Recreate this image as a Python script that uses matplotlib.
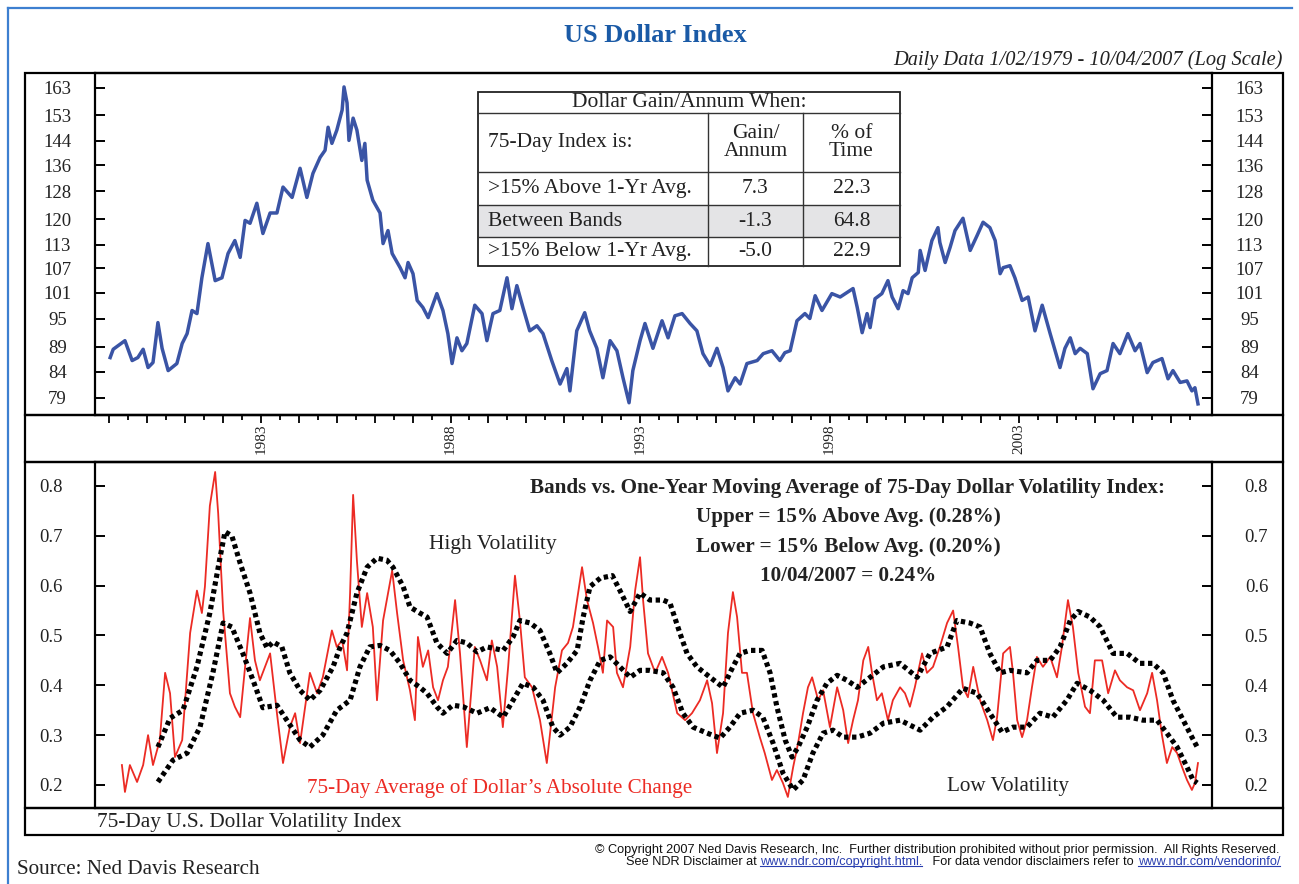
import matplotlib
matplotlib.use("Agg")
import matplotlib.pyplot as plt
from matplotlib.patches import Rectangle
from matplotlib.ticker import NullLocator, FixedLocator

SERIF = ["Liberation Serif", "DejaVu Serif"]
SANS = ["Liberation Sans", "DejaVu Sans"]

# ---- US Dollar Index (decimal years) ----
dollar_dates = [
    1979.02, 1979.10, 1979.41, 1979.60, 1979.75, 1979.89, 1980.02, 1980.15, 1980.28, 1980.39,
    1980.55, 1980.78, 1980.92, 1981.05, 1981.18, 1981.31, 1981.44, 1981.60, 1981.79, 1981.97,
    1982.13, 1982.31, 1982.45, 1982.58, 1982.71, 1982.89, 1983.05, 1983.24, 1983.42, 1983.58,
    1983.82, 1984.03, 1984.21, 1984.37, 1984.56, 1984.69, 1984.77, 1984.87, 1985.00, 1985.14,
    1985.19, 1985.27, 1985.32, 1985.43, 1985.53, 1985.66, 1985.74, 1985.80, 1985.95, 1986.14,
    1986.22, 1986.35, 1986.46, 1986.67, 1986.80, 1986.88, 1987.01, 1987.12, 1987.27, 1987.41,
    1987.64, 1987.80, 1987.93, 1988.04, 1988.17, 1988.30, 1988.43, 1988.64, 1988.83, 1988.96,
    1989.12, 1989.30, 1989.49, 1989.62, 1989.75, 1989.91, 1990.09, 1990.28, 1990.44, 1990.67,
    1990.89, 1991.07, 1991.15, 1991.33, 1991.54, 1991.67, 1991.86, 1992.02, 1992.21, 1992.39,
    1992.55, 1992.71, 1992.81, 1993.00, 1993.13, 1993.34, 1993.58, 1993.74, 1993.92, 1994.11,
    1994.32, 1994.50, 1994.66, 1994.85, 1995.03, 1995.19, 1995.32, 1995.51, 1995.64, 1995.82,
    1996.09, 1996.25, 1996.48, 1996.69, 1996.82, 1996.96, 1997.14, 1997.35, 1997.48, 1997.62,
    1997.80, 1998.06, 1998.28, 1998.62, 1998.73, 1998.86, 1998.99, 1999.07, 1999.20, 1999.38,
    1999.54, 1999.65, 1999.81, 1999.94, 2000.07, 2000.18, 2000.34, 2000.39, 2000.52, 2000.70,
    2000.86, 2000.91, 2001.05, 2001.18, 2001.31, 2001.52, 2001.71, 2001.89, 2002.05, 2002.23,
    2002.37, 2002.50, 2002.58, 2002.76, 2002.89, 2003.08, 2003.24, 2003.42, 2003.61, 2003.82,
    2004.08, 2004.21, 2004.35, 2004.48, 2004.61, 2004.80, 2004.95, 2005.14, 2005.32, 2005.48,
    2005.66, 2005.87, 2006.06, 2006.19, 2006.38, 2006.53, 2006.77, 2006.93, 2007.06, 2007.25,
    2007.43, 2007.56, 2007.64, 2007.72,
]
dollar_index = [
    86.8, 88.5, 90.3, 86.2, 86.8, 88.5, 84.8, 85.8, 94.2, 88.7,
    84.2, 85.6, 89.7, 91.8, 96.9, 96.2, 104.6, 113.3, 103.9, 104.6,
    110.7, 114.1, 109.7, 119.6, 118.8, 124.5, 116.0, 121.7, 121.7, 129.3,
    126.2, 135.1, 126.2, 133.5, 138.6, 140.9, 148.7, 143.2, 147.7, 154.8,
    163.4, 157.4, 144.2, 151.9, 147.7, 137.6, 143.2, 131.4, 125.4, 121.7,
    113.3, 116.8, 110.7, 107.1, 104.6, 108.4, 105.6, 99.2, 97.6, 95.3,
    100.8, 96.9, 91.8, 85.6, 90.9, 88.2, 89.7, 98.1, 96.2, 90.3,
    96.2, 96.9, 104.6, 97.3, 102.7, 97.6, 92.4, 93.5, 91.8, 86.2,
    81.6, 84.6, 80.3, 92.4, 96.4, 92.4, 88.7, 82.8, 90.3, 88.2,
    82.8, 78.1, 84.2, 90.3, 94.0, 88.7, 94.6, 90.9, 95.7, 96.2,
    94.0, 92.4, 87.6, 85.2, 88.7, 84.8, 80.3, 82.8, 81.6, 85.6,
    86.2, 87.6, 88.2, 86.2, 87.8, 88.2, 94.6, 96.2, 95.1, 100.3,
    96.9, 100.8, 100.0, 102.0, 97.6, 92.0, 96.2, 93.1, 99.6, 100.8,
    103.9, 100.0, 97.3, 101.5, 100.8, 104.6, 105.9, 111.5, 106.4, 114.1,
    117.6, 113.6, 108.4, 112.3, 116.8, 120.2, 111.5, 115.4, 119.1, 117.6,
    114.1, 105.6, 107.1, 107.6, 104.6, 99.2, 100.0, 92.4, 98.1, 91.8,
    84.8, 88.7, 90.9, 87.6, 88.7, 87.6, 80.7, 83.6, 84.2, 89.7,
    87.6, 91.8, 88.2, 89.7, 83.8, 85.8, 86.6, 82.6, 84.2, 81.9,
    82.2, 80.3, 80.9, 77.9,
]

# ---- 75-day volatility index (red) ----
vol_dates = [
    1979.33, 1979.41, 1979.54, 1979.73, 1979.89, 1980.02, 1980.15, 1980.33, 1980.47, 1980.60,
    1980.73, 1980.92, 1981.13, 1981.31, 1981.44, 1981.52, 1981.65, 1981.79, 1981.87, 1982.00,
    1982.18, 1982.31, 1982.45, 1982.58, 1982.71, 1982.84, 1982.97, 1983.24, 1983.42, 1983.58,
    1983.76, 1983.90, 1984.03, 1984.29, 1984.48, 1984.63, 1984.87, 1985.00, 1985.14, 1985.27,
    1985.35, 1985.43, 1985.53, 1985.66, 1985.80, 1985.95, 1986.06, 1986.22, 1986.46, 1986.59,
    1986.75, 1986.93, 1987.06, 1987.14, 1987.27, 1987.41, 1987.54, 1987.67, 1987.80, 1987.93,
    1988.12, 1988.25, 1988.43, 1988.56, 1988.64, 1988.78, 1988.96, 1989.09, 1989.23, 1989.38,
    1989.52, 1989.70, 1989.83, 1989.96, 1990.15, 1990.36, 1990.54, 1990.76, 1990.94, 1991.10,
    1991.23, 1991.47, 1991.60, 1991.76, 1991.89, 1992.02, 1992.13, 1992.29, 1992.39, 1992.55,
    1992.74, 1992.87, 1993.00, 1993.08, 1993.21, 1993.40, 1993.58, 1993.74, 1993.98, 1994.19,
    1994.37, 1994.58, 1994.77, 1994.90, 1995.03, 1995.19, 1995.32, 1995.45, 1995.56, 1995.69,
    1995.82, 1995.98, 1996.16, 1996.29, 1996.48, 1996.61, 1996.77, 1996.90, 1997.04, 1997.17,
    1997.30, 1997.43, 1997.54, 1997.70, 1997.83, 1998.01, 1998.20, 1998.36, 1998.49, 1998.62,
    1998.75, 1998.89, 1999.02, 1999.12, 1999.25, 1999.38, 1999.54, 1999.67, 1999.86, 1999.99,
    2000.12, 2000.25, 2000.44, 2000.57, 2000.73, 2000.91, 2001.10, 2001.26, 2001.39, 2001.52,
    2001.65, 2001.79, 2001.97, 2002.16, 2002.31, 2002.42, 2002.58, 2002.76, 2002.84, 2002.95,
    2003.08, 2003.21, 2003.34, 2003.47, 2003.63, 2003.82, 2004.00, 2004.13, 2004.29, 2004.42,
    2004.56, 2004.74, 2004.87, 2005.00, 2005.19, 2005.35, 2005.53, 2005.66, 2005.85, 2006.01,
    2006.19, 2006.38, 2006.51, 2006.64, 2006.77, 2006.90, 2007.04, 2007.17, 2007.30, 2007.43,
    2007.56, 2007.64, 2007.72,
]
vol_index = [
    0.240, 0.186, 0.240, 0.206, 0.240, 0.300, 0.240, 0.290, 0.425, 0.384,
    0.256, 0.290, 0.505, 0.590, 0.545, 0.598, 0.760, 0.828, 0.745, 0.550,
    0.384, 0.357, 0.336, 0.437, 0.535, 0.450, 0.410, 0.464, 0.344, 0.244,
    0.316, 0.344, 0.284, 0.425, 0.384, 0.416, 0.510, 0.477, 0.490, 0.430,
    0.585, 0.782, 0.650, 0.517, 0.585, 0.517, 0.370, 0.530, 0.630, 0.545,
    0.450, 0.390, 0.330, 0.497, 0.437, 0.470, 0.396, 0.370, 0.410, 0.437,
    0.571, 0.464, 0.276, 0.400, 0.477, 0.450, 0.410, 0.490, 0.437, 0.316,
    0.437, 0.620, 0.530, 0.416, 0.396, 0.330, 0.244, 0.396, 0.470, 0.485,
    0.517, 0.637, 0.571, 0.525, 0.477, 0.425, 0.530, 0.517, 0.425, 0.396,
    0.477, 0.590, 0.657, 0.571, 0.464, 0.425, 0.457, 0.425, 0.344, 0.330,
    0.344, 0.370, 0.410, 0.364, 0.264, 0.344, 0.505, 0.587, 0.537, 0.425,
    0.425, 0.344, 0.296, 0.264, 0.210, 0.230, 0.204, 0.176, 0.236, 0.284,
    0.344, 0.396, 0.416, 0.370, 0.390, 0.316, 0.396, 0.350, 0.284, 0.330,
    0.370, 0.450, 0.477, 0.425, 0.370, 0.384, 0.330, 0.370, 0.396, 0.384,
    0.357, 0.396, 0.464, 0.425, 0.437, 0.477, 0.525, 0.550, 0.477, 0.396,
    0.376, 0.437, 0.370, 0.330, 0.290, 0.336, 0.464, 0.477, 0.425, 0.330,
    0.296, 0.330, 0.396, 0.457, 0.437, 0.457, 0.416, 0.477, 0.571, 0.517,
    0.425, 0.357, 0.344, 0.450, 0.450, 0.384, 0.430, 0.410, 0.396, 0.390,
    0.350, 0.384, 0.425, 0.370, 0.300, 0.244, 0.276, 0.264, 0.236, 0.210,
    0.190, 0.204, 0.244,
]

# ---- bands: upper / lower 15% around 1-yr average ----
upper_dates = [
    1980.28, 1980.60, 1980.94, 1981.31, 1981.65, 1981.92, 1982.05, 1982.23, 1982.45, 1982.71,
    1982.97, 1983.16, 1983.32, 1983.55, 1983.76, 1984.03, 1984.29, 1984.56, 1984.90, 1985.09,
    1985.27, 1985.53, 1985.80, 1986.06, 1986.32, 1986.48, 1986.75, 1986.93, 1987.19, 1987.38,
    1987.64, 1987.91, 1988.17, 1988.43, 1988.70, 1988.96, 1989.39, 1989.65, 1989.83, 1990.10,
    1990.36, 1990.62, 1990.81, 1991.07, 1991.34, 1991.50, 1991.68, 1991.95, 1992.27, 1992.47,
    1992.74, 1993.00, 1993.26, 1993.61, 1993.79, 1994.05, 1994.24, 1994.50, 1994.85, 1995.19,
    1995.45, 1995.64, 1995.90, 1996.22, 1996.43, 1996.61, 1996.83, 1997.01, 1997.17, 1997.41,
    1997.67, 1997.93, 1998.20, 1998.46, 1998.73, 1999.07, 1999.42, 1999.86, 2000.31, 2000.65,
    2001.10, 2001.36, 2001.70, 2001.97, 2002.23, 2002.50, 2002.76, 2003.21, 2003.47, 2003.82,
    2004.08, 2004.35, 2004.56, 2004.87, 2005.14, 2005.48, 2005.85, 2006.19, 2006.53, 2006.80,
    2007.06, 2007.33, 2007.56, 2007.70,
]
upper_band = [
    0.276, 0.334, 0.350, 0.437, 0.545, 0.657, 0.708, 0.700, 0.645, 0.585,
    0.505, 0.475, 0.487, 0.477, 0.425, 0.390, 0.370, 0.390, 0.437, 0.477,
    0.505, 0.585, 0.637, 0.655, 0.651, 0.637, 0.598, 0.557, 0.545, 0.537,
    0.485, 0.464, 0.490, 0.485, 0.467, 0.477, 0.470, 0.497, 0.530, 0.525,
    0.510, 0.464, 0.425, 0.444, 0.470, 0.537, 0.598, 0.615, 0.620, 0.590,
    0.548, 0.585, 0.571, 0.571, 0.565, 0.505, 0.464, 0.437, 0.416, 0.396,
    0.437, 0.464, 0.470, 0.470, 0.425, 0.357, 0.290, 0.256, 0.276, 0.316,
    0.370, 0.404, 0.420, 0.410, 0.396, 0.416, 0.437, 0.444, 0.416, 0.464,
    0.477, 0.530, 0.525, 0.517, 0.464, 0.425, 0.430, 0.425, 0.450, 0.450,
    0.477, 0.530, 0.548, 0.537, 0.517, 0.464, 0.464, 0.444, 0.444, 0.425,
    0.370, 0.330, 0.296, 0.276,
]
lower_dates = [
    1980.28, 1980.68, 1981.05, 1981.39, 1981.73, 1982.00, 1982.23, 1982.52, 1982.79, 1983.05,
    1983.42, 1983.68, 1984.03, 1984.29, 1984.63, 1985.00, 1985.35, 1985.61, 1985.87, 1986.14,
    1986.40, 1986.67, 1986.93, 1987.19, 1987.38, 1987.64, 1987.80, 1988.06, 1988.33, 1988.70,
    1989.04, 1989.39, 1989.65, 1989.91, 1990.18, 1990.44, 1990.70, 1990.89, 1991.15, 1991.42,
    1991.68, 1991.95, 1992.21, 1992.47, 1992.74, 1993.00, 1993.26, 1993.61, 1993.87, 1994.13,
    1994.40, 1994.77, 1995.11, 1995.37, 1995.64, 1995.98, 1996.24, 1996.51, 1996.77, 1997.04,
    1997.30, 1997.56, 1997.83, 1998.09, 1998.36, 1998.73, 1999.07, 1999.42, 1999.86, 2000.39,
    2000.73, 2001.10, 2001.52, 2001.89, 2002.23, 2002.55, 2002.84, 2003.21, 2003.55, 2003.89,
    2004.26, 2004.53, 2004.87, 2005.22, 2005.58, 2005.93, 2006.27, 2006.64, 2006.90, 2007.17,
    2007.43, 2007.59, 2007.70,
]
lower_band = [
    0.206, 0.250, 0.264, 0.316, 0.425, 0.525, 0.517, 0.464, 0.410, 0.355,
    0.360, 0.330, 0.290, 0.276, 0.300, 0.350, 0.370, 0.437, 0.477, 0.480,
    0.470, 0.444, 0.410, 0.396, 0.384, 0.357, 0.344, 0.360, 0.357, 0.344,
    0.355, 0.336, 0.370, 0.404, 0.396, 0.370, 0.316, 0.300, 0.316, 0.357,
    0.410, 0.450, 0.457, 0.437, 0.416, 0.430, 0.430, 0.425, 0.396, 0.344,
    0.316, 0.304, 0.294, 0.316, 0.344, 0.350, 0.336, 0.284, 0.224, 0.190,
    0.210, 0.264, 0.304, 0.310, 0.296, 0.296, 0.304, 0.324, 0.330, 0.310,
    0.336, 0.357, 0.394, 0.384, 0.344, 0.306, 0.316, 0.316, 0.344, 0.336,
    0.370, 0.404, 0.390, 0.370, 0.336, 0.336, 0.330, 0.330, 0.304, 0.276,
    0.236, 0.210, 0.204,
]

top_ticks = [79, 84, 89, 95, 101, 107, 113, 120, 128, 136, 144, 153, 163]
bottom_ticks = [0.2, 0.3, 0.4, 0.5, 0.6, 0.7, 0.8]
year_labels = [1983, 1988, 1993, 1998, 2003]

table_conditions = [">15% Above 1-Yr Avg.", "Between Bands", ">15% Below 1-Yr Avg."]
table_gain = ["7.3", "-1.3", "-5.0"]
table_time = ["22.3", "64.8", "22.9"]

W, H = 1299, 884
XLIM = (1978.62, 2008.09)
INK = "#222222"


def fr(x0, y0, x1, y1):
    # pixel box (y down) -> figure fraction
    return [x0 / W, 1 - y1 / H, (x1 - x0) / W, (y1 - y0) / H]


fig = plt.figure(figsize=(W / 100, H / 100), dpi=100)

# ---------- top panel ----------
ax1 = fig.add_axes(fr(95, 73, 1212, 415))
ax1.plot(dollar_dates, dollar_index, color="#3a54a5", lw=2.5, solid_joinstyle="round")
ax1.set_yscale("log")
ax1.set_xlim(*XLIM)
ax1.set_ylim(75.9, 168.8)
ax1.yaxis.set_major_locator(FixedLocator(top_ticks))
ax1.set_yticklabels([str(t) for t in top_ticks])
ax1.yaxis.set_minor_locator(NullLocator())
ax1.set_xticks([])

# ---------- bottom panel ----------
ax2 = fig.add_axes(fr(95, 462, 1212, 808))
ax2.plot(vol_dates, vol_index, color="#ec2b24", lw=1.3)
for d, v in [(upper_dates, upper_band), (lower_dates, lower_band)]:
    ax2.plot(d, v, color="black", lw=3.7, linestyle=(0, (0.85, 0.7)),
             dash_capstyle="butt")
ax2.set_xlim(*XLIM)
ax2.set_ylim(0.1538, 0.848)
ax2.set_yticks(bottom_ticks)
ax2.set_yticklabels([f"{t:.1f}" for t in bottom_ticks])
ax2.set_xticks([])

for ax, pad in [(ax1, 27), (ax2, 32)]:
    ax.tick_params(axis="y", which="major", direction="in", left=True, right=True,
                   labelleft=True, labelright=True, length=7, width=1.4, pad=pad,
                   labelsize=13.5, labelcolor=INK)
    for sp in ax.spines.values():
        sp.set_linewidth(1.6)
    for t in ax.yaxis.get_major_ticks():
        t.label1.set_ha("center")
        t.label2.set_ha("center")
        t.label1.set_family(SERIF)
        t.label2.set_family(SERIF)

# ---------- date strip ----------
ax3 = fig.add_axes(fr(95, 415, 1212, 462))
ax3.set_xlim(*XLIM)
ax3.set_ylim(0, 1)
ax3.patch.set_alpha(0)
for sp in ax3.spines.values():
    sp.set_visible(False)
ax3.xaxis.set_major_locator(FixedLocator(list(range(1979, 2008))))
ax3.xaxis.set_minor_locator(FixedLocator([y + 0.5 for y in range(1979, 2008)]))
ax3.tick_params(axis="x", which="both", top=True, bottom=False, labeltop=False,
                labelbottom=False, direction="in", width=1.3)
ax3.tick_params(axis="x", which="major", length=6)
ax3.tick_params(axis="x", which="minor", length=3.5)
ax3.set_yticks([])
for yr in year_labels:
    ax3.text(yr, 0.5, str(yr), transform=ax3.get_xaxis_transform(), rotation=90,
             ha="center", va="center", fontsize=11, family=SERIF, color=INK)

# ---------- decoration layer (pixel coords) ----------
deco = fig.add_axes([0, 0, 1, 1], zorder=5)
deco.set_xlim(0, W)
deco.set_ylim(H, 0)
deco.axis("off")

# outer blue frame (top and left)
deco.plot([8, 1292], [8, 8], color="#3d7fd0", lw=1.6)
deco.plot([8, 8], [8, 884], color="#3d7fd0", lw=1.6)

for (y0, y1) in [(73, 415), (415, 462), (462, 808), (808, 835)]:
    deco.add_patch(Rectangle((25, y0), 1258, y1 - y0, fill=False, ec="black", lw=1.6))

deco.text(655, 36, "US Dollar Index", ha="center", va="center", fontsize=19,
          fontweight="bold", color="#1a5aa6", family=SERIF)
deco.text(1283, 60, "Daily Data 1/02/1979 - 10/04/2007 (Log Scale)", ha="right",
          va="center", fontsize=14.7, style="italic", color=INK, family=SERIF)

# table
tx0, tx1 = 478, 900
c1, c2 = 708, 803
ty = [92, 113, 172, 205, 237, 266]
deco.add_patch(Rectangle((tx0, ty[3]), tx1 - tx0, ty[4] - ty[3], fc="#e4e4e6", ec="none"))
deco.add_patch(Rectangle((tx0, ty[0]), tx1 - tx0, ty[-1] - ty[0], fill=False, ec=INK, lw=1.3))
for yl in ty[1:-1]:
    deco.plot([tx0, tx1], [yl, yl], color="#333333", lw=1.0)
for xl in (c1, c2):
    deco.plot([xl, xl], [ty[1], ty[-1]], color="#333333", lw=1.0)
tfs = 15.5
deco.text((tx0 + tx1) / 2, (ty[0] + ty[1]) / 2, "Dollar Gain/Annum When:", ha="center",
          va="center", fontsize=tfs, family=SERIF, color=INK)
deco.text(488, (ty[1] + ty[2]) / 2, "75-Day Index is:", ha="left", va="center",
          fontsize=tfs, family=SERIF, color=INK)
deco.text((c1 + c2) / 2, (ty[1] + ty[2]) / 2, "Gain/\nAnnum", ha="center", va="center",
          fontsize=tfs, family=SERIF, color=INK, linespacing=0.95)
deco.text((c2 + tx1) / 2, (ty[1] + ty[2]) / 2, "% of\nTime", ha="center", va="center",
          fontsize=tfs, family=SERIF, color=INK, linespacing=0.95)
for i, (cond, g, p) in enumerate(zip(table_conditions, table_gain, table_time)):
    yc = (ty[2 + i] + ty[3 + i]) / 2
    deco.text(488, yc, cond, ha="left", va="center", fontsize=tfs, family=SERIF, color=INK)
    deco.text((c1 + c2) / 2, yc, g, ha="center", va="center", fontsize=tfs, family=SERIF, color=INK)
    deco.text((c2 + tx1) / 2, yc, p, ha="center", va="center", fontsize=tfs, family=SERIF, color=INK)

# lower panel annotations
bfs = 15.2
deco.text(848, 488, "Bands vs. One-Year Moving Average of 75-Day Dollar Volatility Index:",
          ha="center", va="center", fontsize=bfs, fontweight="bold", family=SERIF, color=INK)
for yy, s in [(517, "Upper = 15% Above Avg. (0.28%)"), (547, "Lower = 15% Below Avg. (0.20%)"),
              (576, "10/04/2007 = 0.24%")]:
    deco.text(848, yy, s, ha="center", va="center", fontsize=bfs, fontweight="bold",
              family=SERIF, color=INK)
deco.text(493, 544, "High Volatility", ha="center", va="center", fontsize=15.5,
          family=SERIF, color=INK)
deco.text(1008, 787, "Low Volatility", ha="center", va="center", fontsize=15.2,
          family=SERIF, color=INK)
deco.text(500, 788, "75-Day Average of Dollar\u2019s Absolute Change", ha="center", va="center",
          fontsize=15.2, family=SERIF, color="#ec2b24")
deco.text(97, 823, "75-Day U.S. Dollar Volatility Index", ha="left", va="center",
          fontsize=15.3, family=SERIF, color=INK)
deco.text(17, 870, "Source: Ned Davis Research", ha="left", va="center",
          fontsize=15.2, family=SERIF, color=INK)

# copyright lines
cfs = 9.2
deco.text(1280, 850, "\u00a9 Copyright 2007 Ned Davis Research, Inc.  Further distribution "
          "prohibited without prior permission.  All Rights Reserved.", ha="right",
          va="center", fontsize=cfs, family=SANS, color="#111111")
link = "#2a3fb0"
p4 = deco.text(1280, 862, "www.ndr.com/vendorinfo/", ha="right", va="center",
               fontsize=cfs, family=SANS, color=link)
p3 = deco.annotate("   For data vendor disclaimers refer to ", xy=(0, 0.5), xycoords=p4,
                   ha="right", va="center", fontsize=cfs, family=SANS, color="#111111")
p2 = deco.annotate("www.ndr.com/copyright.html.", xy=(0, 0.5), xycoords=p3,
                   ha="right", va="center", fontsize=cfs, family=SANS, color=link)
deco.annotate("See NDR Disclaimer at ", xy=(0, 0.5), xycoords=p2,
              ha="right", va="center", fontsize=cfs, family=SANS, color="#111111")

# underline the two links
fig.canvas.draw()
rend = fig.canvas.get_renderer()
inv = deco.transData.inverted()
for t in (p2, p4):
    bb = t.get_window_extent(rend)
    (ux0, uy), (ux1, _) = inv.transform([(bb.x0, bb.y0 + 2), (bb.x1, bb.y0 + 2)])
    deco.plot([ux0, ux1], [uy, uy], color=link, lw=0.8)

fig.savefig("out.png", dpi=100)
